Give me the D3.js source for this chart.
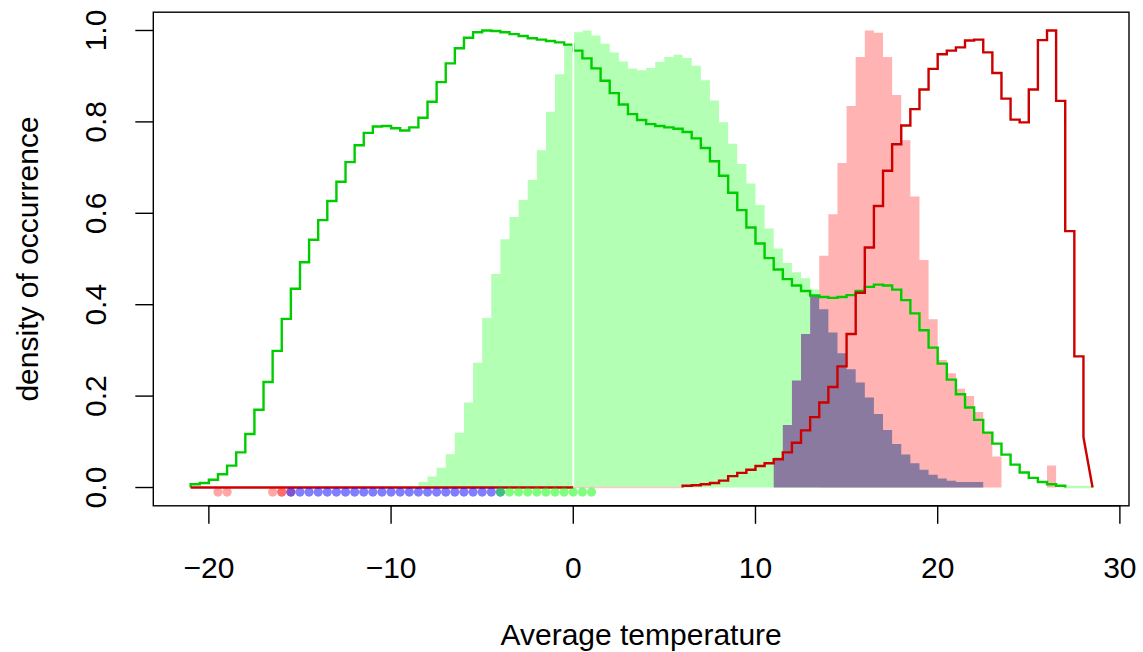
<!DOCTYPE html>
<html>
<head>
<meta charset="utf-8">
<script src="https://cdn.jsdelivr.net/npm/d3@7"></script>
<style>
  body { margin: 0; background: #fff; }
  text { font-family: "Liberation Sans", Arial, Helvetica, sans-serif; fill: #000; }
</style>
</head>
<body>
<svg id="chart" width="1143" height="652"></svg>
<script>
// histogram bins are 0.5 degrees wide; each series lists heights from its first bin
const binWidth = 0.5;

// green outline (step line)
const greenLineStart = -21;
const greenLine = [
  0.007, 0.01, 0.017, 0.029, 0.048, 0.077, 0.117, 0.17, 0.231, 0.299,
  0.369, 0.435, 0.493, 0.542, 0.585, 0.627, 0.669, 0.712, 0.749, 0.776,
  0.79, 0.791, 0.786, 0.781, 0.788, 0.809, 0.844, 0.887, 0.928, 0.961,
  0.984, 0.996, 1.0, 0.999, 0.996, 0.992, 0.988, 0.983, 0.98, 0.977,
  0.974, 0.969, 0.956, 0.939, 0.917, 0.89, 0.863, 0.838, 0.817, 0.804,
  0.795, 0.791, 0.788, 0.785, 0.778, 0.764, 0.743, 0.714, 0.682, 0.645,
  0.607, 0.569, 0.534, 0.502, 0.477, 0.456, 0.442, 0.43, 0.42, 0.417,
  0.415, 0.417, 0.421, 0.43, 0.439, 0.444, 0.442, 0.433, 0.41, 0.381,
  0.344, 0.306, 0.271, 0.236, 0.204, 0.175, 0.148, 0.12, 0.096, 0.072,
  0.05, 0.033, 0.021, 0.012, 0.007, 0.004
];

// light green filled histogram
const greenFillStart = -8.5;
const greenFill = [
  0.012, 0.024, 0.043, 0.073, 0.12, 0.186, 0.273, 0.371, 0.467, 0.543,
  0.592, 0.629, 0.673, 0.738, 0.822, 0.904, 0.969, 0.996, 1.0, 0.989,
  0.971, 0.952, 0.932, 0.917, 0.913, 0.918, 0.931, 0.942, 0.947, 0.94,
  0.923, 0.891, 0.847, 0.799, 0.752, 0.708, 0.665, 0.618, 0.567, 0.523,
  0.491, 0.471, 0.458, 0.433
];
// faint green tail near zero
const greenTailStart = 27;
const greenTail = [0.002, 0.002, 0.002];

// pink filled histogram
const pinkFillStart = 13.5;
const pinkFill = [
  0.507, 0.598, 0.71, 0.835, 0.942, 1.0, 0.995, 0.942, 0.859, 0.76,
  0.637, 0.498, 0.368, 0.279, 0.25, 0.216, 0.2, 0.165, 0.12, 0.068,
  0, 0, 0, 0, 0, 0.048
];

// purple filled histogram
const purpleFillStart = 11;
const purpleFill = [
  0.065, 0.137, 0.234, 0.336, 0.421, 0.39, 0.339, 0.294, 0.259, 0.23,
  0.197, 0.161, 0.126, 0.095, 0.072, 0.053, 0.039, 0.028, 0.02, 0.015,
  0.012, 0.012, 0.012
];

// red outline (step line); zero before redLineStart
const redZeroFrom = -21;
const redFadeFrom = 0;
const redLineStart = 6;
const redLine = [
  0.004, 0.005, 0.007, 0.01, 0.015, 0.025, 0.032, 0.039, 0.047, 0.053,
  0.062, 0.077, 0.098, 0.125, 0.154, 0.186, 0.22, 0.265, 0.336, 0.426,
  0.525, 0.616, 0.693, 0.751, 0.792, 0.828, 0.871, 0.916, 0.948, 0.956,
  0.963, 0.978, 0.98, 0.952, 0.907, 0.851, 0.805, 0.799, 0.871, 0.979,
  1.0, 0.846, 0.561, 0.287
];
const redLastBin = 0.11;   // final bin drops linearly to zero

// rug points below the baseline
const rugLevel = -0.01;
const pinkDots = [-19.5, -19, -16.5, -16, -16, -15.5];
const blueDots = [-15.5, -15, -14.5, -14, -13.5, -13, -12.5, -12, -11.5, -11, -10.5, -10,
                  -9.5, -9, -8.5, -8, -7.5, -7, -6.5, -6, -5.5, -5, -4.5, -4];
const greenDots = [-4, -3.5, -3, -2.5, -2, -1.5, -1, -0.5, 0, 0.5, 1];

const zeroLine = 0;

const xTicks = [-20, -10, 0, 10, 20, 30];
const yTicks = [0, 0.2, 0.4, 0.6, 0.8, 1.0];

const svg = d3.select("#chart");

const plot = { left: 153.3, right: 1129, top: 12.2, bottom: 505.8 };

const x = d3.scaleLinear().domain([-23.05, 30.5]).range([plot.left, plot.right]);
const y = d3.scaleLinear().domain([-0.04, 1.04]).range([plot.bottom, plot.top]);

// turn a bin series into step points
function stepPoints(start, values) {
  const pts = values.map((v, i) => ({ x: start + i * binWidth, v: v }));
  pts.push({ x: start + values.length * binWidth, v: values[values.length - 1] });
  return pts;
}

const area = d3.area()
  .curve(d3.curveStepAfter)
  .x(d => x(d.x))
  .y0(y(0))
  .y1(d => y(d.v));

const line = d3.line()
  .x(d => x(d.x))
  .y(d => y(d.v));

const g = svg.append("g");

// Filled histograms
g.append("path")
  .attr("d", area(stepPoints(greenFillStart, greenFill)))
  .attr("fill", "#b3ffb3");

g.append("path")
  .attr("d", area(stepPoints(greenTailStart, greenTail)))
  .attr("fill", "none")
  .attr("stroke", "#b3ffb3")
  .attr("stroke-width", 1.5);

g.append("path")
  .attr("d", area(stepPoints(pinkFillStart, pinkFill)))
  .attr("fill", "#ffb3b3");

g.append("path")
  .attr("d", area(stepPoints(purpleFillStart, purpleFill)))
  .attr("fill", "#8a7aa0");

// Green outline
const gPts = [{ x: greenLineStart, v: 0 }];
greenLine.forEach((v, i) => {
  gPts.push({ x: greenLineStart + i * binWidth, v: v });
  gPts.push({ x: greenLineStart + (i + 1) * binWidth, v: v });
});
gPts.push({ x: greenLineStart + greenLine.length * binWidth, v: 0 });

g.append("path")
  .attr("d", line(gPts))
  .attr("fill", "none")
  .attr("stroke", "#00cd00")
  .attr("stroke-width", 2.4)
  .attr("stroke-linejoin", "miter");

// white separator at zero
g.append("line")
  .attr("x1", x(zeroLine)).attr("x2", x(zeroLine))
  .attr("y1", y(0)).attr("y2", y(1.0))
  .attr("stroke", "#fff")
  .attr("stroke-width", 1.8);

// Red outline
g.append("line")
  .attr("x1", x(redZeroFrom)).attr("x2", x(redFadeFrom))
  .attr("y1", y(0)).attr("y2", y(0))
  .attr("stroke", "#cd0000")
  .attr("stroke-width", 2.4);

g.append("line")
  .attr("x1", x(redFadeFrom)).attr("x2", x(redLineStart))
  .attr("y1", y(0)).attr("y2", y(0))
  .attr("stroke", "#ffc8c8")
  .attr("stroke-width", 1.5);

const rPts = [{ x: redLineStart, v: 0 }];
redLine.forEach((v, i) => {
  rPts.push({ x: redLineStart + i * binWidth, v: v });
  rPts.push({ x: redLineStart + (i + 1) * binWidth, v: v });
});
const redEnd = redLineStart + redLine.length * binWidth;
rPts.push({ x: redEnd, v: redLastBin });
rPts.push({ x: redEnd + binWidth, v: 0 });

g.append("path")
  .attr("d", line(rPts))
  .attr("fill", "none")
  .attr("stroke", "#cd0000")
  .attr("stroke-width", 2.4)
  .attr("stroke-linejoin", "miter");

// Rug dots
function dots(values, color) {
  g.selectAll(null)
    .data(values)
    .enter()
    .append("circle")
    .attr("cx", d => x(d))
    .attr("cy", y(rugLevel))
    .attr("r", 4.6)
    .attr("fill", color);
}
dots(pinkDots, "rgba(255,0,0,0.35)");
dots(blueDots, "rgba(0,0,255,0.5)");
dots(greenDots, "rgba(0,255,0,0.5)");

// Box
svg.append("rect")
  .attr("x", plot.left).attr("y", plot.top)
  .attr("width", plot.right - plot.left)
  .attr("height", plot.bottom - plot.top)
  .attr("fill", "none")
  .attr("stroke", "#000")
  .attr("stroke-width", 1.4);

const tickLen = 18;
const fontSize = 30;

// X axis
const xa = svg.append("g");
xa.append("line")
  .attr("x1", x(xTicks[0])).attr("x2", x(xTicks[xTicks.length - 1]))
  .attr("y1", plot.bottom).attr("y2", plot.bottom)
  .attr("stroke", "#000").attr("stroke-width", 1.4);
xa.selectAll(".xt")
  .data(xTicks)
  .enter()
  .append("line")
  .attr("x1", d => x(d)).attr("x2", d => x(d))
  .attr("y1", plot.bottom).attr("y2", plot.bottom + tickLen)
  .attr("stroke", "#000").attr("stroke-width", 1.4);
xa.selectAll(".xl")
  .data(xTicks)
  .enter()
  .append("text")
  .attr("x", d => x(d))
  .attr("y", 578)
  .attr("text-anchor", "middle")
  .attr("font-size", fontSize)
  .text(d => d < 0 ? "\u2212" + Math.abs(d) : d);

// Y axis
const ya = svg.append("g");
ya.selectAll(".yt")
  .data(yTicks)
  .enter()
  .append("line")
  .attr("x1", plot.left - tickLen).attr("x2", plot.left)
  .attr("y1", d => y(d)).attr("y2", d => y(d))
  .attr("stroke", "#000").attr("stroke-width", 1.4);
ya.selectAll(".yl")
  .data(yTicks)
  .enter()
  .append("text")
  .attr("transform", d => `translate(106,${y(d)}) rotate(-90)`)
  .attr("text-anchor", "middle")
  .attr("font-size", fontSize)
  .text(d => d.toFixed(1));

// Axis titles
svg.append("text")
  .attr("x", (plot.left + plot.right) / 2)
  .attr("y", 645)
  .attr("text-anchor", "middle")
  .attr("font-size", fontSize)
  .text("Average temperature");

svg.append("text")
  .attr("transform", `translate(38,${(plot.top + plot.bottom) / 2}) rotate(-90)`)
  .attr("text-anchor", "middle")
  .attr("font-size", fontSize)
  .text("density of occurrence");
</script>
</body>
</html>
